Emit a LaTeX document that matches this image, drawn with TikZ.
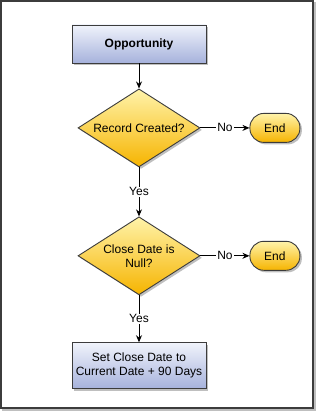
\documentclass[tikz,border=0pt]{standalone}
\usepackage{fontspec}
\setmainfont{Liberation Sans}
\usetikzlibrary{positioning, shapes.geometric, shadows, arrows.meta}
\definecolor{cLine}{RGB}{60,60,60}
\definecolor{cBlueT}{RGB}{240,243,251}
\definecolor{cBlueB}{RGB}{166,178,220}
\definecolor{cGoldT}{RGB}{255,243,170}
\definecolor{cGoldB}{RGB}{246,180,0}

\begin{document}
\begin{tikzpicture}[x=1pt, y=-1pt, ->, >={Stealth[length=7pt, width=6pt]}, line width=0.9pt,
    every node/.style={font=\fontsize{12}{14}\selectfont, text=black},
    procbox/.style={rectangle, draw=cLine, top color=cBlueT, bottom color=cBlueB, minimum width=134pt, minimum height=38pt, align=center, drop shadow={shadow xshift=2pt, shadow yshift=-2pt, fill=black, opacity=0.25}},
    decision/.style={diamond, aspect=1.56, draw=cLine, top color=cGoldT, bottom color=cGoldB, minimum width=122pt, minimum height=78pt, inner sep=0pt, align=center, drop shadow={shadow xshift=2pt, shadow yshift=-2pt, fill=black, opacity=0.25}},
    endbox/.style={rectangle, rounded corners=14pt, draw=cLine, top color=cGoldT, bottom color=cGoldB, minimum width=50pt, minimum height=29pt, drop shadow={shadow xshift=2pt, shadow yshift=-2pt, fill=black, opacity=0.25}},
    lbl/.style={fill=white, inner sep=1pt}]
    \useasboundingbox (0,0) rectangle (318,414);

    % Frame
    \draw[-, black!25, line width=1.2pt] (3,3) rectangle (315,410);
    \draw[-, cLine, line width=1.2pt, fill=white] (1,1) rectangle (313,408);

    % Steps
    \node[procbox] (opp) at (139,44) {\bfseries Opportunity};
    \node[decision] (created) [below=25pt of opp] {Record Created?};
    \node[endbox] (end1) [right=49pt of created] {End};
    \node[decision] (nulldate) [below=49pt of created] {Close Date is\\Null?};
    \node[endbox] (end2) [right=49pt of nulldate] {End};
    \node[procbox, minimum height=46pt] (setdate) [below=47pt of nulldate] {Set Close Date to\\Current Date + 90 Days};

    % Flow
    \draw (opp) -- (created);
    \draw (created) -- node[lbl] {No} (end1);
    \draw (created) -- node[lbl] {Yes} (nulldate);
    \draw (nulldate) -- node[lbl] {No} (end2);
    \draw (nulldate) -- node[lbl] {Yes} (setdate);
\end{tikzpicture}
\end{document}
